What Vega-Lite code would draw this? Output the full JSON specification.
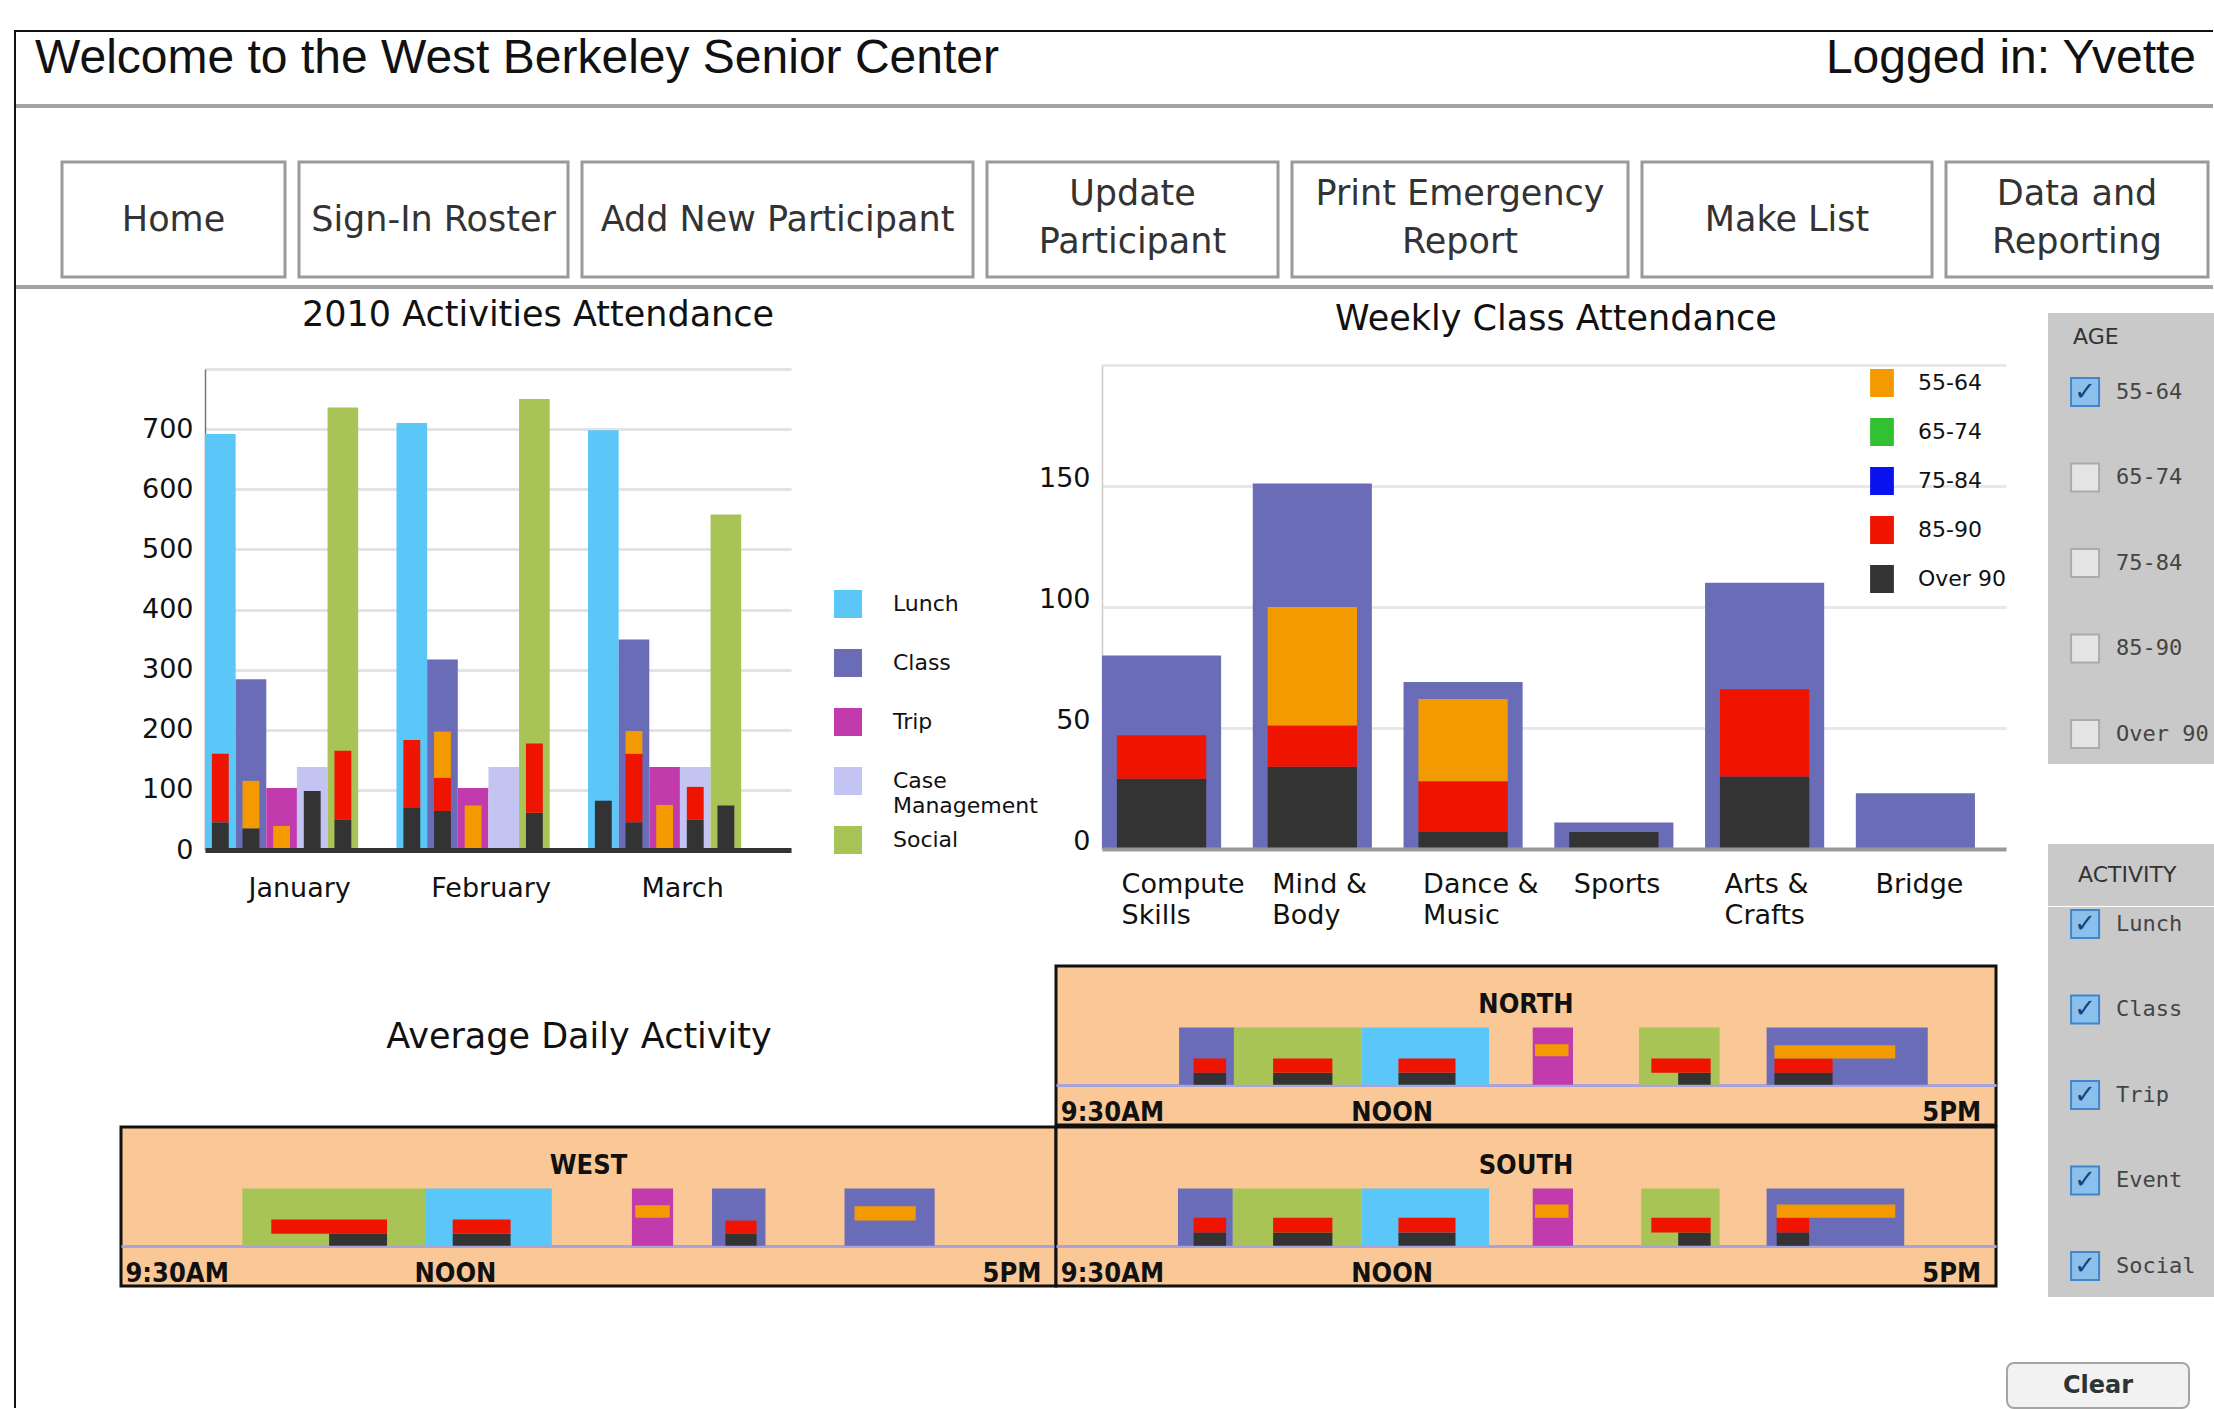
{
"$schema": "https://vega.github.io/schema/vega-lite/v6.json",
"padding": 0,
"background": "white",
"autosize": {"type": "pad"},
"config": {
  "view": {"stroke": null},
  "concat": {"spacing": 0},
  "font": "DejaVu Sans",
  "text": {"font": "DejaVu Sans", "color": "#111"}
},
"datasets": {
  "monthly": [
    {"month": "January", "activity": "Lunch", "count": 692},
    {"month": "January", "activity": "Class", "count": 284},
    {"month": "January", "activity": "Trip", "count": 103},
    {"month": "January", "activity": "Case Management", "count": 138},
    {"month": "January", "activity": "Social", "count": 736},
    {"month": "February", "activity": "Lunch", "count": 710},
    {"month": "February", "activity": "Class", "count": 317},
    {"month": "February", "activity": "Trip", "count": 103},
    {"month": "February", "activity": "Case Management", "count": 138},
    {"month": "February", "activity": "Social", "count": 750},
    {"month": "March", "activity": "Lunch", "count": 698},
    {"month": "March", "activity": "Class", "count": 350},
    {"month": "March", "activity": "Trip", "count": 138},
    {"month": "March", "activity": "Case Management", "count": 138},
    {"month": "March", "activity": "Social", "count": 558}
  ],
  "monthlyAge": [
    {"month": "January", "activity": "Lunch", "age": "Over 90", "count": 46},
    {"month": "January", "activity": "Lunch", "age": "85-90", "count": 114},
    {"month": "January", "activity": "Class", "age": "Over 90", "count": 36},
    {"month": "January", "activity": "Class", "age": "55-64", "count": 79},
    {"month": "January", "activity": "Trip", "age": "55-64", "count": 40},
    {"month": "January", "activity": "Case Management", "age": "Over 90", "count": 98},
    {"month": "January", "activity": "Social", "age": "Over 90", "count": 51},
    {"month": "January", "activity": "Social", "age": "85-90", "count": 114},
    {"month": "February", "activity": "Lunch", "age": "Over 90", "count": 70},
    {"month": "February", "activity": "Lunch", "age": "85-90", "count": 113},
    {"month": "February", "activity": "Class", "age": "Over 90", "count": 65},
    {"month": "February", "activity": "Class", "age": "85-90", "count": 55},
    {"month": "February", "activity": "Class", "age": "55-64", "count": 77},
    {"month": "February", "activity": "Trip", "age": "55-64", "count": 74},
    {"month": "February", "activity": "Social", "age": "Over 90", "count": 62},
    {"month": "February", "activity": "Social", "age": "85-90", "count": 115},
    {"month": "March", "activity": "Lunch", "age": "Over 90", "count": 82},
    {"month": "March", "activity": "Class", "age": "Over 90", "count": 46},
    {"month": "March", "activity": "Class", "age": "85-90", "count": 114},
    {"month": "March", "activity": "Class", "age": "55-64", "count": 38},
    {"month": "March", "activity": "Trip", "age": "55-64", "count": 75},
    {"month": "March", "activity": "Case Management", "age": "Over 90", "count": 51},
    {"month": "March", "activity": "Case Management", "age": "85-90", "count": 54},
    {"month": "March", "activity": "Social", "age": "Over 90", "count": 74}
  ],
  "activities": [
    {"activity": "Lunch"}, {"activity": "Class"}, {"activity": "Trip"}, {"activity": "Case Management"}, {"activity": "Social"}
  ],
  "weekly": [
    {"class": "Compute Skills", "count": 80},
    {"class": "Mind & Body", "count": 151},
    {"class": "Dance & Music", "count": 69},
    {"class": "Sports", "count": 11},
    {"class": "Arts & Crafts", "count": 110},
    {"class": "Bridge", "count": 23}
  ],
  "weeklyAge": [
    {"class": "Compute Skills", "age": "Over 90", "count": 29},
    {"class": "Compute Skills", "age": "85-90", "count": 18},
    {"class": "Mind & Body", "age": "Over 90", "count": 34},
    {"class": "Mind & Body", "age": "85-90", "count": 17},
    {"class": "Mind & Body", "age": "55-64", "count": 49},
    {"class": "Dance & Music", "age": "Over 90", "count": 7},
    {"class": "Dance & Music", "age": "85-90", "count": 21},
    {"class": "Dance & Music", "age": "55-64", "count": 34},
    {"class": "Sports", "age": "Over 90", "count": 7},
    {"class": "Arts & Crafts", "age": "Over 90", "count": 30},
    {"class": "Arts & Crafts", "age": "85-90", "count": 36}
  ],
  "blocks": [
    {"region": "NORTH", "activity": "Class", "start": 10.10, "end": 10.59},
    {"region": "NORTH", "activity": "Social", "start": 10.59, "end": 11.73},
    {"region": "NORTH", "activity": "Lunch", "start": 11.73, "end": 12.87},
    {"region": "NORTH", "activity": "Trip", "start": 13.26, "end": 13.62},
    {"region": "NORTH", "activity": "Social", "start": 14.21, "end": 14.93},
    {"region": "NORTH", "activity": "Class", "start": 15.35, "end": 16.79},
    {"region": "SOUTH", "activity": "Class", "start": 10.09, "end": 10.58},
    {"region": "SOUTH", "activity": "Social", "start": 10.58, "end": 11.73},
    {"region": "SOUTH", "activity": "Lunch", "start": 11.73, "end": 12.87},
    {"region": "SOUTH", "activity": "Trip", "start": 13.26, "end": 13.62},
    {"region": "SOUTH", "activity": "Social", "start": 14.23, "end": 14.93},
    {"region": "SOUTH", "activity": "Class", "start": 15.35, "end": 16.58},
    {"region": "WEST", "activity": "Social", "start": 10.09, "end": 11.74},
    {"region": "WEST", "activity": "Lunch", "start": 11.74, "end": 12.87},
    {"region": "WEST", "activity": "Trip", "start": 13.59, "end": 13.96},
    {"region": "WEST", "activity": "Class", "start": 14.31, "end": 14.79},
    {"region": "WEST", "activity": "Class", "start": 15.50, "end": 16.31}
  ],
  "overlays": [
    {"region": "NORTH", "age": "Over 90", "start": 10.23, "end": 10.52, "lo": 0, "hi": 0.21},
    {"region": "NORTH", "age": "85-90", "start": 10.23, "end": 10.52, "lo": 0.21, "hi": 0.46},
    {"region": "NORTH", "age": "Over 90", "start": 10.94, "end": 11.47, "lo": 0, "hi": 0.21},
    {"region": "NORTH", "age": "85-90", "start": 10.94, "end": 11.47, "lo": 0.21, "hi": 0.46},
    {"region": "NORTH", "age": "Over 90", "start": 12.06, "end": 12.57, "lo": 0, "hi": 0.21},
    {"region": "NORTH", "age": "85-90", "start": 12.06, "end": 12.57, "lo": 0.21, "hi": 0.46},
    {"region": "NORTH", "age": "55-64", "start": 13.28, "end": 13.58, "lo": 0.5, "hi": 0.71},
    {"region": "NORTH", "age": "Over 90", "start": 14.56, "end": 14.85, "lo": 0, "hi": 0.21},
    {"region": "NORTH", "age": "85-90", "start": 14.32, "end": 14.85, "lo": 0.21, "hi": 0.46},
    {"region": "NORTH", "age": "Over 90", "start": 15.42, "end": 15.94, "lo": 0, "hi": 0.21},
    {"region": "NORTH", "age": "85-90", "start": 15.42, "end": 15.94, "lo": 0.21, "hi": 0.46},
    {"region": "NORTH", "age": "55-64", "start": 15.42, "end": 16.50, "lo": 0.46, "hi": 0.69},
    {"region": "SOUTH", "age": "Over 90", "start": 10.23, "end": 10.52, "lo": 0, "hi": 0.23},
    {"region": "SOUTH", "age": "85-90", "start": 10.23, "end": 10.52, "lo": 0.23, "hi": 0.49},
    {"region": "SOUTH", "age": "Over 90", "start": 10.94, "end": 11.47, "lo": 0, "hi": 0.23},
    {"region": "SOUTH", "age": "85-90", "start": 10.94, "end": 11.47, "lo": 0.23, "hi": 0.49},
    {"region": "SOUTH", "age": "Over 90", "start": 12.06, "end": 12.57, "lo": 0, "hi": 0.23},
    {"region": "SOUTH", "age": "85-90", "start": 12.06, "end": 12.57, "lo": 0.23, "hi": 0.49},
    {"region": "SOUTH", "age": "55-64", "start": 13.28, "end": 13.58, "lo": 0.49, "hi": 0.72},
    {"region": "SOUTH", "age": "Over 90", "start": 14.56, "end": 14.85, "lo": 0, "hi": 0.23},
    {"region": "SOUTH", "age": "85-90", "start": 14.32, "end": 14.85, "lo": 0.23, "hi": 0.49},
    {"region": "SOUTH", "age": "Over 90", "start": 15.44, "end": 15.73, "lo": 0, "hi": 0.23},
    {"region": "SOUTH", "age": "85-90", "start": 15.44, "end": 15.73, "lo": 0.23, "hi": 0.49},
    {"region": "SOUTH", "age": "55-64", "start": 15.44, "end": 16.50, "lo": 0.49, "hi": 0.72},
    {"region": "WEST", "age": "85-90", "start": 10.35, "end": 11.39, "lo": 0.21, "hi": 0.46},
    {"region": "WEST", "age": "Over 90", "start": 10.87, "end": 11.39, "lo": 0, "hi": 0.21},
    {"region": "WEST", "age": "Over 90", "start": 11.98, "end": 12.50, "lo": 0, "hi": 0.21},
    {"region": "WEST", "age": "85-90", "start": 11.98, "end": 12.50, "lo": 0.21, "hi": 0.46},
    {"region": "WEST", "age": "55-64", "start": 13.62, "end": 13.93, "lo": 0.49, "hi": 0.71},
    {"region": "WEST", "age": "Over 90", "start": 14.43, "end": 14.71, "lo": 0, "hi": 0.21},
    {"region": "WEST", "age": "85-90", "start": 14.43, "end": 14.71, "lo": 0.21, "hi": 0.44},
    {"region": "WEST", "age": "55-64", "start": 15.59, "end": 16.14, "lo": 0.44, "hi": 0.69}
  ],
  "ageFilter": [
    {"item": "55-64", "state": "on"},
    {"item": "65-74", "state": "off"},
    {"item": "75-84", "state": "off"},
    {"item": "85-90", "state": "off"},
    {"item": "Over 90", "state": "off"}
  ],
  "activityFilter": [
    {"item": "Lunch", "state": "on"},
    {"item": "Class", "state": "on"},
    {"item": "Trip", "state": "on"},
    {"item": "Event", "state": "on"},
    {"item": "Social", "state": "on"}
  ]
},
"resolve": {"scale": {"color": "independent"}},
"vconcat": [
  {"width": 1, "height": 30, "data": {"values": []}, "mark": "point"},
  {"resolve": {"scale": {"color": "independent"}}, "hconcat": [
    {"width": 14, "height": 1, "data": {"values": []}, "mark": "point"},
    {"width": 2, "height": 1378, "view": {"fill": "#111", "stroke": null}, "data": {"values": []}, "mark": "point"},
    {"resolve": {"scale": {"color": "independent"}}, "vconcat": [
      {"width": 2197, "height": 2, "view": {"fill": "#111", "stroke": null}, "data": {"values": []}, "mark": "point"},
      {"width": 2197, "height": 54,
       "data": {"values": [{"welcome": "Welcome to the West Berkeley Senior Center", "user": "Logged in: Yvette"}]},
       "layer": [
         {"mark": {"type": "text", "align": "left", "font": "Liberation Sans", "fontSize": 48, "color": "#111"},
          "encoding": {"x": {"datum": 0, "type": "quantitative", "scale": {"domain": [0, 1], "range": [19, 2180], "nice": false, "zero": false}, "axis": null},
                       "text": {"field": "welcome"}}},
         {"mark": {"type": "text", "align": "right", "font": "Liberation Sans", "fontSize": 48, "color": "#111"},
          "encoding": {"x": {"datum": 1, "type": "quantitative"}, "text": {"field": "user"}}}
       ]},
      {"width": 1, "height": 18, "data": {"values": []}, "mark": "point"},
      {"width": 2197, "height": 4, "view": {"fill": "#a3a3a3", "stroke": null}, "data": {"values": []}, "mark": "point"},
      {"width": 1, "height": 52, "data": {"values": []}, "mark": "point"},
      {"bounds": "flush", "spacing": 14, "hconcat": [
        {"width": 32, "height": 1, "data": {"values": []}, "mark": "point"},
        {"width": 223, "height": 115, "view": {"stroke": "#9a9a9a", "strokeWidth": 3}, "data": {"values": [{"label": "Home"}]}, "mark": {"type": "text", "fontSize": 35, "color": "#333"}, "encoding": {"text": {"field": "label"}}},
        {"width": 269, "height": 115, "view": {"stroke": "#9a9a9a", "strokeWidth": 3}, "data": {"values": [{"label": "Sign-In Roster"}]}, "mark": {"type": "text", "fontSize": 35, "color": "#333"}, "encoding": {"text": {"field": "label"}}},
        {"width": 391, "height": 115, "view": {"stroke": "#9a9a9a", "strokeWidth": 3}, "data": {"values": [{"label": "Add New Participant"}]}, "mark": {"type": "text", "fontSize": 35, "color": "#333"}, "encoding": {"text": {"field": "label"}}},
        {"width": 291, "height": 115, "view": {"stroke": "#9a9a9a", "strokeWidth": 3}, "data": {"values": [{"label": "Update\nParticipant"}]}, "mark": {"type": "text", "fontSize": 35, "color": "#333", "lineBreak": "\n", "lineHeight": 48, "dy": -26}, "encoding": {"text": {"field": "label"}}},
        {"width": 336, "height": 115, "view": {"stroke": "#9a9a9a", "strokeWidth": 3}, "data": {"values": [{"label": "Print Emergency\nReport"}]}, "mark": {"type": "text", "fontSize": 35, "color": "#333", "lineBreak": "\n", "lineHeight": 48, "dy": -26}, "encoding": {"text": {"field": "label"}}},
        {"width": 290, "height": 115, "view": {"stroke": "#9a9a9a", "strokeWidth": 3}, "data": {"values": [{"label": "Make List"}]}, "mark": {"type": "text", "fontSize": 35, "color": "#333"}, "encoding": {"text": {"field": "label"}}},
        {"width": 262, "height": 115, "view": {"stroke": "#9a9a9a", "strokeWidth": 3}, "data": {"values": [{"label": "Data and\nReporting"}]}, "mark": {"type": "text", "fontSize": 35, "color": "#333", "lineBreak": "\n", "lineHeight": 48, "dy": -26}, "encoding": {"text": {"field": "label"}}}
      ]},
      {"width": 1, "height": 6, "data": {"values": []}, "mark": "point"},
      {"width": 2197, "height": 4, "view": {"fill": "#a3a3a3", "stroke": null}, "data": {"values": []}, "mark": "point"},
      {"resolve": {"scale": {"color": "independent"}}, "hconcat": [
        {"resolve": {"scale": {"color": "independent"}}, "vconcat": [
          {"resolve": {"scale": {"color": "independent"}}, "hconcat": [
            {"width": 125, "height": 1, "data": {"values": []}, "mark": "point"},
            {"resolve": {"scale": {"color": "independent"}}, "vconcat": [
              {"width": 1, "height": 4, "data": {"values": []}, "mark": "point"},
              {"bounds": "flush", "hconcat": [
                {"width": 73, "height": 1, "data": {"values": []}, "mark": "point"},
                {"width": 520, "height": 44, "data": {"values": [{"label": "2010 Activities Attendance"}]}, "mark": {"type": "text", "fontSize": 35, "color": "#111"}, "encoding": {"text": {"field": "label"}}}
              ]},
              {"width": 1, "height": 32, "data": {"values": []}, "mark": "point"},
              {"width": 586, "height": 481,
               "layer": [
                 {"data": {"name": "monthly"}, "mark": {"type": "bar"},
                  "encoding": {
                    "x": {"field": "month", "type": "nominal", "sort": ["January", "February", "March"], "title": null,
                          "scale": {"paddingInner": 0.2, "paddingOuter": 0.13, "align": 0},
                          "axis": {"labelAngle": 0, "domain": true, "domainColor": "#333", "domainWidth": 5, "ticks": false, "tickSize": 0, "grid": false, "labelFontSize": 27, "labelColor": "#111", "labelPadding": 25, "labelOffset": 18, "minExtent": 70, "maxExtent": 70, "zindex": 1}},
                    "xOffset": {"field": "activity", "type": "nominal", "sort": ["Lunch", "Class", "Trip", "Case Management", "Social"], "scale": {"paddingInner": 0, "paddingOuter": 0}},
                    "y": {"field": "count", "type": "quantitative", "title": null, "scale": {"domain": [0, 800], "nice": false},
                          "axis": {"values": [0, 100, 200, 300, 400, 500, 600, 700, 800], "labelExpr": "datum.value >= 800 ? '' : datum.label", "grid": true, "gridColor": "#e3e3e3", "gridWidth": 3, "domain": true, "domainColor": "#777", "domainWidth": 1.5, "ticks": false, "tickSize": 0, "labelFontSize": 27, "labelColor": "#111", "labelPadding": 12, "minExtent": 64, "maxExtent": 64}},
                    "color": {"field": "activity", "type": "nominal", "scale": {"domain": ["Lunch", "Class", "Trip", "Case Management", "Social"], "range": ["#5bc6f8", "#6a6cb8", "#c23bad", "#c4c4f2", "#a8c456"]}, "legend": null}
                  }},
                 {"data": {"name": "monthlyAge"}, "mark": {"type": "bar"},
                  "encoding": {
                    "x": {"field": "month", "type": "nominal", "sort": ["January", "February", "March"]},
                    "xOffset": {"field": "activity", "type": "nominal", "sort": ["Lunch", "Class", "Trip", "Case Management", "Social"], "scale": {"paddingInner": 0.45, "paddingOuter": 0.225}},
                    "y": {"field": "count", "type": "quantitative", "stack": "zero"},
                    "color": {"field": "age", "type": "nominal", "scale": {"domain": ["55-64", "65-74", "75-84", "85-90", "Over 90"], "range": ["#f39a00", "#31c131", "#0b12f0", "#ee1400", "#333333"]}, "legend": null},
                    "order": {"field": "age", "sort": "descending"}
                  }}
               ],
               "resolve": {"scale": {"color": "independent", "xOffset": "independent"}}
              }
            ]},
            {"width": 35, "height": 1, "data": {"values": []}, "mark": "point"},
            {"vconcat": [
              {"width": 1, "height": 300, "data": {"values": []}, "mark": "point"},
              {"width": 204, "height": 264, "data": {"name": "activities"},
               "layer": [
                 {"mark": {"type": "square", "size": 784, "opacity": 1},
                  "encoding": {
                    "x": {"datum": 0.0686, "type": "quantitative", "scale": {"domain": [0, 1], "nice": false, "zero": false}, "axis": null},
                    "y": {"field": "activity", "type": "nominal", "scale": {"type": "point", "domain": ["Lunch", "Class", "Trip", "Case Management", "Social"], "padding": 0.237, "align": 0.5}, "axis": null},
                    "color": {"field": "activity", "type": "nominal", "scale": {"domain": ["Lunch", "Class", "Trip", "Case Management", "Social"], "range": ["#5bc6f8", "#6a6cb8", "#c23bad", "#c4c4f2", "#a8c456"]}, "legend": null}
                  }},
                 {"mark": {"type": "text", "align": "left", "fontSize": 22, "color": "#111", "lineBreak": " ", "lineHeight": 25},
                  "encoding": {
                    "x": {"datum": 0.289, "type": "quantitative"},
                    "y": {"field": "activity", "type": "nominal"},
                    "text": {"field": "activity"}
                  }}
               ]}
            ]},
            {"resolve": {"scale": {"color": "independent"}}, "vconcat": [
              {"width": 1, "height": 8, "data": {"values": []}, "mark": "point"},
              {"bounds": "flush", "hconcat": [
                {"width": 204, "height": 1, "data": {"values": []}, "mark": "point"},
                {"width": 500, "height": 44, "data": {"values": [{"label": "Weekly Class Attendance"}]}, "mark": {"type": "text", "fontSize": 35, "color": "#111"}, "encoding": {"text": {"field": "label"}}}
              ]},
              {"width": 1, "height": 24, "data": {"values": []}, "mark": "point"},
              {"width": 904, "height": 484,
               "layer": [
                 {"data": {"name": "weekly"}, "mark": {"type": "bar", "color": "#6a6cb8"},
                  "encoding": {
                    "x": {"field": "class", "type": "nominal", "sort": ["Compute Skills", "Mind & Body", "Dance & Music", "Sports", "Arts & Crafts", "Bridge"], "title": null,
                          "scale": {"paddingInner": 0.21, "paddingOuter": 0.103, "align": 0},
                          "axis": {"labelAngle": 0, "domainColor": "#999", "domainWidth": 4, "ticks": false, "tickSize": 0, "grid": false, "labelFontSize": 27, "labelColor": "#111", "labelPadding": 22, "labelAlign": "left", "labelOffset": -40, "labelBaseline": "top", "labelLineHeight": 31, "minExtent": 90, "maxExtent": 90, "zindex": 1,
                                   "labelExpr": "indexof(datum.label, ' ') < 0 ? datum.label : [substring(datum.label, 0, lastindexof(datum.label, ' ')), substring(datum.label, lastindexof(datum.label, ' ') + 1)]"}},
                    "y": {"field": "count", "type": "quantitative", "title": null, "scale": {"domain": [0, 200], "nice": false},
                          "axis": {"values": [0, 50, 100, 150, 200], "labelExpr": "datum.value >= 200 ? '' : datum.label", "grid": true, "gridColor": "#e8e8e8", "gridWidth": 3, "domainColor": "#cccccc", "domainWidth": 1.5, "ticks": false, "tickSize": 0, "labelFontSize": 27, "labelColor": "#111", "labelPadding": 12, "labelBaseline": "alphabetic", "minExtent": 64, "maxExtent": 64}}
                  }},
                 {"data": {"name": "weeklyAge"}, "mark": {"type": "bar", "width": {"band": 0.75}},
                  "encoding": {
                    "x": {"field": "class", "type": "nominal", "sort": ["Compute Skills", "Mind & Body", "Dance & Music", "Sports", "Arts & Crafts", "Bridge"]},
                    "y": {"field": "count", "type": "quantitative", "stack": "zero"},
                    "color": {"field": "age", "type": "nominal", "scale": {"domain": ["55-64", "65-74", "75-84", "85-90", "Over 90"], "range": ["#f39a00", "#31c131", "#0b12f0", "#ee1400", "#333333"]},
                              "legend": {"orient": "none", "legendX": 766, "legendY": 4, "title": null, "padding": 0, "symbolType": "M-0.85,-1H0.85V1H-0.85Z", "symbolSize": 784, "symbolStrokeWidth": 0, "symbolOpacity": 1, "labelFontSize": 22, "labelColor": "#111", "labelOffset": 22, "rowPadding": 21}},
                    "order": {"field": "age", "sort": "descending"}
                  }}
               ]
              }
            ]}
          ]},
          {"width": 1, "height": 25, "data": {"values": []}, "mark": "point"},
          {"spacing": -3, "resolve": {"scale": {"color": "independent"}}, "vconcat": [
            {"bounds": "flush", "resolve": {"scale": {"color": "independent"}}, "hconcat": [
              {"width": 326, "height": 1, "data": {"values": []}, "mark": "point"},
              {"width": 474, "height": 142, "data": {"values": [{"label": "Average Daily Activity"}]}, "mark": {"type": "text", "fontSize": 35, "color": "#111"}, "encoding": {"text": {"field": "label"}}},
              {"width": 240, "height": 1, "data": {"values": []}, "mark": "point"},
              {"width": 940, "height": 159,
               "view": {"fill": "#f9c896", "stroke": "#111", "strokeWidth": 3},
               "layer": [
                 {"data": {"name": "blocks"}, "transform": [{"filter": "datum.region == 'NORTH'"}], "mark": {"type": "bar"},
                  "encoding": {
                    "x": {"field": "start", "type": "quantitative", "scale": {"domain": [9, 17.4], "nice": false, "zero": false},
                          "axis": {"values": [9.5, 12, 17], "labelExpr": "datum.value == 12 ? 'NOON' : (datum.value < 12 ? '9:30AM' : '5PM')", "domain": false, "ticks": false, "tickSize": 0, "grid": false, "offset": -8, "labelPadding": 3, "labelBaseline": "alphabetic", "labelFont": "DejaVu Sans Condensed, Liberation Sans Narrow, DejaVu Sans", "labelFontSize": 27, "labelFontWeight": "bold", "labelColor": "#111", "labelFlush": false, "labelOverlap": false, "title": null}},
                    "x2": {"field": "end"},
                    "y": {"datum": 0, "type": "quantitative", "scale": {"domain": [-0.707, 2.08], "nice": false, "zero": false},
                          "axis": {"values": [0], "grid": true, "gridColor": "#aaa3d9", "gridWidth": 3, "labels": false, "ticks": false, "domain": false, "title": null}},
                    "y2": {"datum": 1},
                    "color": {"field": "activity", "type": "nominal", "scale": {"domain": ["Lunch", "Class", "Trip", "Case Management", "Social"], "range": ["#5bc6f8", "#6a6cb8", "#c23bad", "#c4c4f2", "#a8c456"]}, "legend": null}
                  }},
                 {"data": {"name": "overlays"}, "transform": [{"filter": "datum.region == 'NORTH'"}], "mark": {"type": "bar"},
                  "encoding": {
                    "x": {"field": "start", "type": "quantitative"}, "x2": {"field": "end"},
                    "y": {"field": "lo", "type": "quantitative"}, "y2": {"field": "hi"},
                    "color": {"field": "age", "type": "nominal", "scale": {"domain": ["55-64", "65-74", "75-84", "85-90", "Over 90"], "range": ["#f39a00", "#31c131", "#0b12f0", "#ee1400", "#333333"]}, "legend": null}
                  }},
                 {"data": {"values": [{"region": "NORTH"}]}, "mark": {"type": "text", "font": "DejaVu Sans Condensed, Liberation Sans Narrow, DejaVu Sans", "fontSize": 27, "fontWeight": "bold", "color": "#111"},
                  "encoding": {"y": {"datum": 1.40, "type": "quantitative"}, "text": {"field": "region"}}}
               ],
               "resolve": {"scale": {"color": "independent"}}
              }
            ]},
            {"bounds": "flush", "resolve": {"scale": {"color": "independent"}}, "hconcat": [
              {"width": 105, "height": 1, "data": {"values": []}, "mark": "point"},
              {"width": 935, "height": 159,
               "view": {"fill": "#f9c896", "stroke": "#111", "strokeWidth": 3},
               "layer": [
                 {"data": {"name": "blocks"}, "transform": [{"filter": "datum.region == 'WEST'"}], "mark": {"type": "bar"},
                  "encoding": {
                    "x": {"field": "start", "type": "quantitative", "scale": {"domain": [9, 17.4], "nice": false, "zero": false},
                          "axis": {"values": [9.5, 12, 17], "labelExpr": "datum.value == 12 ? 'NOON' : (datum.value < 12 ? '9:30AM' : '5PM')", "domain": false, "ticks": false, "tickSize": 0, "grid": false, "offset": -8, "labelPadding": 3, "labelBaseline": "alphabetic", "labelFont": "DejaVu Sans Condensed, Liberation Sans Narrow, DejaVu Sans", "labelFontSize": 27, "labelFontWeight": "bold", "labelColor": "#111", "labelFlush": false, "labelOverlap": false, "title": null}},
                    "x2": {"field": "end"},
                    "y": {"datum": 0, "type": "quantitative", "scale": {"domain": [-0.707, 2.08], "nice": false, "zero": false},
                          "axis": {"values": [0], "grid": true, "gridColor": "#aaa3d9", "gridWidth": 3, "labels": false, "ticks": false, "domain": false, "title": null}},
                    "y2": {"datum": 1},
                    "color": {"field": "activity", "type": "nominal", "scale": {"domain": ["Lunch", "Class", "Trip", "Case Management", "Social"], "range": ["#5bc6f8", "#6a6cb8", "#c23bad", "#c4c4f2", "#a8c456"]}, "legend": null}
                  }},
                 {"data": {"name": "overlays"}, "transform": [{"filter": "datum.region == 'WEST'"}], "mark": {"type": "bar"},
                  "encoding": {
                    "x": {"field": "start", "type": "quantitative"}, "x2": {"field": "end"},
                    "y": {"field": "lo", "type": "quantitative"}, "y2": {"field": "hi"},
                    "color": {"field": "age", "type": "nominal", "scale": {"domain": ["55-64", "65-74", "75-84", "85-90", "Over 90"], "range": ["#f39a00", "#31c131", "#0b12f0", "#ee1400", "#333333"]}, "legend": null}
                  }},
                 {"data": {"values": [{"region": "WEST"}]}, "mark": {"type": "text", "font": "DejaVu Sans Condensed, Liberation Sans Narrow, DejaVu Sans", "fontSize": 27, "fontWeight": "bold", "color": "#111"},
                  "encoding": {"y": {"datum": 1.40, "type": "quantitative"}, "text": {"field": "region"}}}
               ],
               "resolve": {"scale": {"color": "independent"}}
              },
              {"width": 940, "height": 159,
               "view": {"fill": "#f9c896", "stroke": "#111", "strokeWidth": 3},
               "layer": [
                 {"data": {"name": "blocks"}, "transform": [{"filter": "datum.region == 'SOUTH'"}], "mark": {"type": "bar"},
                  "encoding": {
                    "x": {"field": "start", "type": "quantitative", "scale": {"domain": [9, 17.4], "nice": false, "zero": false},
                          "axis": {"values": [9.5, 12, 17], "labelExpr": "datum.value == 12 ? 'NOON' : (datum.value < 12 ? '9:30AM' : '5PM')", "domain": false, "ticks": false, "tickSize": 0, "grid": false, "offset": -8, "labelPadding": 3, "labelBaseline": "alphabetic", "labelFont": "DejaVu Sans Condensed, Liberation Sans Narrow, DejaVu Sans", "labelFontSize": 27, "labelFontWeight": "bold", "labelColor": "#111", "labelFlush": false, "labelOverlap": false, "title": null}},
                    "x2": {"field": "end"},
                    "y": {"datum": 0, "type": "quantitative", "scale": {"domain": [-0.707, 2.08], "nice": false, "zero": false},
                          "axis": {"values": [0], "grid": true, "gridColor": "#aaa3d9", "gridWidth": 3, "labels": false, "ticks": false, "domain": false, "title": null}},
                    "y2": {"datum": 1},
                    "color": {"field": "activity", "type": "nominal", "scale": {"domain": ["Lunch", "Class", "Trip", "Case Management", "Social"], "range": ["#5bc6f8", "#6a6cb8", "#c23bad", "#c4c4f2", "#a8c456"]}, "legend": null}
                  }},
                 {"data": {"name": "overlays"}, "transform": [{"filter": "datum.region == 'SOUTH'"}], "mark": {"type": "bar"},
                  "encoding": {
                    "x": {"field": "start", "type": "quantitative"}, "x2": {"field": "end"},
                    "y": {"field": "lo", "type": "quantitative"}, "y2": {"field": "hi"},
                    "color": {"field": "age", "type": "nominal", "scale": {"domain": ["55-64", "65-74", "75-84", "85-90", "Over 90"], "range": ["#f39a00", "#31c131", "#0b12f0", "#ee1400", "#333333"]}, "legend": null}
                  }},
                 {"data": {"values": [{"region": "SOUTH"}]}, "mark": {"type": "text", "font": "DejaVu Sans Condensed, Liberation Sans Narrow, DejaVu Sans", "fontSize": 27, "fontWeight": "bold", "color": "#111"},
                  "encoding": {"y": {"datum": 1.40, "type": "quantitative"}, "text": {"field": "region"}}}
               ],
               "resolve": {"scale": {"color": "independent"}}
              }
            ]}
          ]}
        ]},
        {"vconcat": [
          {"width": 1, "height": 24, "data": {"values": []}, "mark": "point"},
          {"hconcat": [
            {"width": 41, "height": 1, "data": {"values": []}, "mark": "point"},
            {"vconcat": [
              {"width": 167, "height": 47, "view": {"fill": "#c9c9c9", "stroke": null},
               "data": {"values": [{"label": "AGE"}]},
               "mark": {"type": "text", "align": "left", "fontSize": 22, "color": "#333"},
               "encoding": {"x": {"datum": 0.15, "type": "quantitative", "scale": {"domain": [0, 1], "nice": false, "zero": false}, "axis": null}, "text": {"field": "label"}}},
              {"width": 167, "height": 404,
               "view": {"fill": "#c9c9c9", "stroke": null},
               "data": {"name": "ageFilter"},
               "layer": [
                 {"mark": {"type": "square", "size": 784, "opacity": 1, "strokeWidth": 2},
                  "encoding": {
                    "x": {"datum": 0.222, "type": "quantitative", "scale": {"domain": [0, 1], "nice": false, "zero": false}, "axis": null},
                    "y": {"field": "item", "type": "nominal", "scale": {"type": "point", "domain": ["55-64", "65-74", "75-84", "85-90", "Over 90"], "padding": 0.3626, "align": 0.516}, "axis": null},
                    "fill": {"field": "state", "type": "nominal", "scale": {"domain": ["on", "off"], "range": ["#8cc0ec", "#e4e4e4"]}, "legend": null},
                    "stroke": {"field": "state", "type": "nominal", "scale": {"domain": ["on", "off"], "range": ["#3f86cc", "#ababab"]}, "legend": null}
                  }},
                 {"transform": [{"filter": "datum.state == 'on'"}], "mark": {"type": "text", "text": "✓", "fontSize": 26, "fontWeight": "bold", "color": "#17427a"},
                  "encoding": {"x": {"datum": 0.222, "type": "quantitative"}, "y": {"field": "item", "type": "nominal"}}},
                 {"mark": {"type": "text", "align": "left", "font": "DejaVu Sans Mono", "fontSize": 22, "color": "#444"},
                  "encoding": {"x": {"datum": 0.407, "type": "quantitative"}, "y": {"field": "item", "type": "nominal"}, "text": {"field": "item"}}}
               ]}
            ]}
          ]},
          {"width": 1, "height": 80, "data": {"values": []}, "mark": "point"},
          {"hconcat": [
            {"width": 41, "height": 1, "data": {"values": []}, "mark": "point"},
            {"vconcat": [
              {"width": 167, "height": 62, "view": {"fill": "#c9c9c9", "stroke": null},
               "data": {"values": [{"label": "ACTIVITY"}]},
               "mark": {"type": "text", "align": "left", "fontSize": 22, "color": "#333"},
               "encoding": {"x": {"datum": 0.18, "type": "quantitative", "scale": {"domain": [0, 1], "nice": false, "zero": false}, "axis": null}, "text": {"field": "label"}}},
              {"width": 167, "height": 390,
               "view": {"fill": "#c9c9c9", "stroke": null},
               "data": {"name": "activityFilter"},
               "layer": [
                 {"mark": {"type": "square", "size": 784, "opacity": 1, "strokeWidth": 2},
                  "encoding": {
                    "x": {"datum": 0.222, "type": "quantitative", "scale": {"domain": [0, 1], "nice": false, "zero": false}, "axis": null},
                    "y": {"field": "item", "type": "nominal", "scale": {"type": "point", "domain": ["Lunch", "Class", "Trip", "Event", "Social"], "padding": 0.281, "align": 0.354}, "axis": null},
                    "fill": {"field": "state", "type": "nominal", "scale": {"domain": ["on", "off"], "range": ["#8cc0ec", "#e4e4e4"]}, "legend": null},
                    "stroke": {"field": "state", "type": "nominal", "scale": {"domain": ["on", "off"], "range": ["#3f86cc", "#ababab"]}, "legend": null}
                  }},
                 {"transform": [{"filter": "datum.state == 'on'"}], "mark": {"type": "text", "text": "✓", "fontSize": 26, "fontWeight": "bold", "color": "#17427a"},
                  "encoding": {"x": {"datum": 0.222, "type": "quantitative"}, "y": {"field": "item", "type": "nominal"}}},
                 {"mark": {"type": "text", "align": "left", "font": "DejaVu Sans Mono", "fontSize": 22, "color": "#444"},
                  "encoding": {"x": {"datum": 0.407, "type": "quantitative"}, "y": {"field": "item", "type": "nominal"}, "text": {"field": "item"}}}
               ]}
            ]}
          ]},
          {"width": 1, "height": 65, "data": {"values": []}, "mark": "point"},
          {"width": 182, "height": 45,
           "view": {"fill": "#f2f2f2", "stroke": "#a5a5a5", "strokeWidth": 2, "cornerRadius": 7},
           "data": {"values": [{"label": "Clear"}]},
           "mark": {"type": "text", "fontSize": 24, "fontWeight": "bold", "color": "#2a3535"},
           "encoding": {"text": {"field": "label"}}}
        ]}
      ]}
    ]}
  ]}
]
}
